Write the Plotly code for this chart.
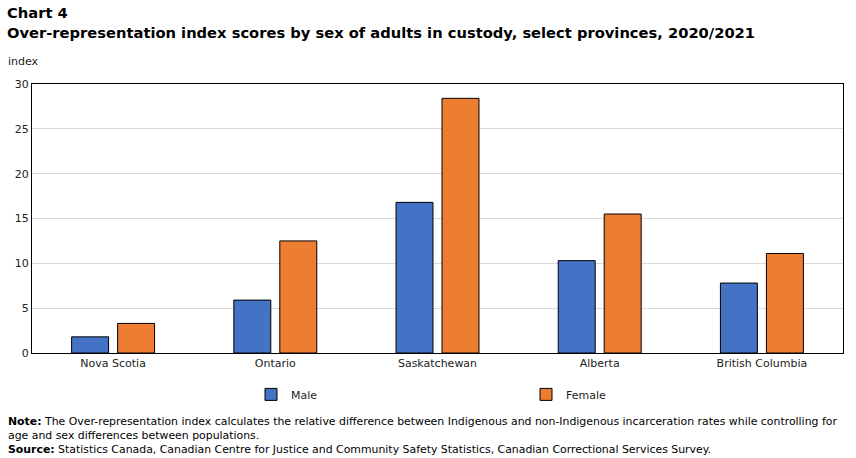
import plotly.graph_objects as go

provinces = ["Nova Scotia", "Ontario", "Saskatchewan", "Alberta", "British Columbia"]
male = [1.8, 5.9, 16.8, 10.3, 7.8]
female = [3.3, 12.5, 28.4, 15.5, 11.1]
y_ticks = [0, 5, 10, 15, 20, 25, 30]

FONT = "DejaVu Sans"
PW, PH = 811, 269  # plot area size in px

fig = go.Figure()
fig.add_trace(go.Bar(name="Male", x=provinces, y=male,
                     marker=dict(color="#4472C4", line=dict(color="black", width=1))))
fig.add_trace(go.Bar(name="Female", x=provinces, y=female,
                     marker=dict(color="#ED7D31", line=dict(color="black", width=1))))

fig.update_layout(
    width=856, height=458,
    margin=dict(l=32, r=13, t=84, b=105),
    paper_bgcolor="white", plot_bgcolor="white",
    font=dict(family=FONT, size=11, color="#222"),
    barmode="group", bargap=0.433, bargroupgap=0.196,
    showlegend=True,
    legend=dict(orientation="h", x=(251 - 32) / PW, xanchor="left", y=-0.1, yanchor="top",
                entrywidth=230, entrywidthmode="pixels",
                font=dict(family=FONT, size=11), itemwidth=30,
                traceorder="normal"),
    xaxis=dict(showline=True, linecolor="black", linewidth=1, mirror=True,
               ticks="", tickfont=dict(family=FONT, size=11)),
    yaxis=dict(range=[0, 30], tickvals=y_ticks, showline=True, linecolor="black",
               linewidth=1, mirror=True, gridcolor="#d9d9d9", gridwidth=1,
               ticks="", tickfont=dict(family=FONT, size=11), zeroline=False),
)

fig.add_annotation(xref="paper", yref="paper", x=-27 / PW, y=1 + (84 - 12) / PH,
                   xanchor="left", yanchor="middle",
                   text="<b>Chart 4</b>", showarrow=False,
                   font=dict(family=FONT, size=14.7, color="black"))
fig.add_annotation(xref="paper", yref="paper", x=-27 / PW, y=1 + (84 - 32) / PH,
                   xanchor="left", yanchor="middle",
                   text="<b>Over-representation index scores by sex of adults in custody, select provinces, 2020/2021</b>",
                   showarrow=False, font=dict(family=FONT, size=14.7, color="black"))
fig.add_annotation(xref="paper", yref="paper", x=-26 / PW, y=1 + 14 / PH,
                   xanchor="left", yanchor="bottom",
                   text="index", showarrow=False, font=dict(family=FONT, size=11, color="#222"))

notes = ("<b>Note:</b> The Over-representation index calculates the relative difference between Indigenous and non-Indigenous incarceration rates while controlling for<br>"
         "age and sex differences between populations.<br>"
         "<b>Source:</b> Statistics Canada, Canadian Centre for Justice and Community Safety Statistics, Canadian Correctional Services Survey.")
fig.add_annotation(xref="paper", yref="paper", x=-26 / PW, y=-60 / PH, xanchor="left", yanchor="top",
                   text=notes, align="left", showarrow=False,
                   font=dict(family=FONT, size=10.9, color="black"))

fig.write_html("out.html")
